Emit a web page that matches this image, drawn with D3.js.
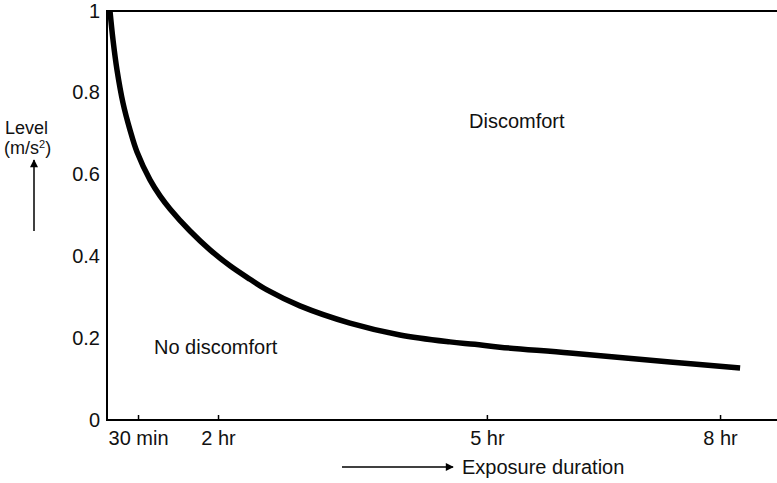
<!DOCTYPE html>
<html><head><meta charset="utf-8">
<script src="https://cdn.jsdelivr.net/npm/d3@7"></script>
<style>body{margin:0;background:#fff}svg{display:block}text{font-family:"Liberation Sans",Arial,sans-serif;fill:#111}</style>
</head><body><svg id="c" width="777" height="483"></svg>
<script>
// Data (hours vs level m/s^2)
const curveHours = [0.048,0.097,0.161,0.258,0.371,0.484,0.725,0.9125,1.10,1.475,1.85,2.134,2.357,2.546,2.914,3.472,4.03,4.587,4.866,5.167,6.069,7.356,8.257];
const curveLevel = [1.0,0.929,0.856,0.775,0.709,0.655,0.587,0.548,0.516,0.462,0.416,0.377,0.344,0.318,0.279,0.237,0.208,0.191,0.185,0.178,0.164,0.142,0.127];
const xTickHours = [0.5,2,5,8];
const xTickLabels = ["30 min","2 hr","5 hr","8 hr"];
const yTicks = [0,0.2,0.4,0.6,0.8,1];
const yTickLabels = ["0","0.2","0.4","0.6","0.8","1"];

const svg = d3.select("#c");
const L=107, R=777, T=11, B=420, W=R-L;
const FS = 20;
// non-uniform time axis, as in the original figure
const x = d3.scaleLinear().domain([0,0.5,2,5,8,8.73]).range([0,0.0463,0.1657,0.567,0.915,1].map(f=>L+f*W));
const y = d3.scaleLinear().domain([0,1]).range([B,T]);

// frame lines
svg.append("line").attr("x1",L).attr("x2",R).attr("y1",T).attr("y2",T).attr("stroke","#000").attr("stroke-width",2);
// x axis with inward ticks
const xAxis = d3.axisTop(x).tickValues(xTickHours).tickSize(5).tickFormat("");
const gx = svg.append("g").attr("transform",`translate(0,${B})`).call(xAxis);
gx.select(".domain").remove();
gx.selectAll(".tick line").attr("stroke","#000").attr("stroke-width",1.5);
svg.append("line").attr("x1",L).attr("x2",R).attr("y1",B).attr("y2",B).attr("stroke","#000").attr("stroke-width",2);
gx.selectAll(".tick").data(xTickHours).append("text").attr("y",25).attr("text-anchor","middle")
  .attr("font-size",FS).attr("fill","#111").text((d,i)=>xTickLabels[i]);
svg.append("line").attr("x1",L).attr("x2",L).attr("y1",T-1).attr("y2",B+1).attr("stroke","#000").attr("stroke-width",2);

// y tick labels
const yAxis = d3.axisLeft(y).tickValues(yTicks).tickSize(0).tickPadding(7).tickFormat((d,i)=>yTickLabels[i]);
const gy = svg.append("g").attr("transform",`translate(${L},0)`).call(yAxis);
gy.select(".domain").remove();
gy.selectAll("text").attr("font-size",FS).attr("fill","#111").attr("font-family","Liberation Sans, Arial, sans-serif").attr("dy","0.3em");

// curve
const pts = curveHours.map((h,i)=>[h,curveLevel[i]]);
svg.append("path").datum(pts)
  .attr("d", d3.line().x(d=>x(d[0])).y(d=>y(d[1])).curve(d3.curveCatmullRom.alpha(0.5)))
  .attr("fill","none").attr("stroke","#000").attr("stroke-width",5.5).attr("stroke-linecap","butt");

// region labels
svg.append("text").attr("x",469).attr("y",128).attr("font-size",FS).text("Discomfort");
svg.append("text").attr("x",154).attr("y",354).attr("font-size",FS).text("No discomfort");

// y label
svg.append("text").attr("x",5).attr("y",134).attr("font-size",18).text("Level");
const yl = svg.append("text").attr("x",4).attr("y",154).attr("font-size",18);
yl.append("tspan").text("(m/s");
yl.append("tspan").attr("font-size",11).attr("dy",-6).text("2");
yl.append("tspan").attr("dy",6).text(")");

// arrows
const defs = svg.append("defs");
defs.append("marker").attr("id","ah").attr("viewBox","0 0 10 10").attr("refX",9).attr("refY",5)
  .attr("markerWidth",11).attr("markerHeight",8).attr("markerUnits","userSpaceOnUse").attr("orient","auto")
  .append("path").attr("d","M0,0L10,5L0,10Z").attr("fill","#000");
svg.append("line").attr("x1",34).attr("x2",34).attr("y1",231).attr("y2",160).attr("stroke","#000").attr("stroke-width",1.5).attr("marker-end","url(#ah)");
svg.append("line").attr("x1",342).attr("x2",453).attr("y1",467).attr("y2",467).attr("stroke","#000").attr("stroke-width",1.5).attr("marker-end","url(#ah)");
svg.append("text").attr("x",462).attr("y",474).attr("font-size",FS).text("Exposure duration");
</script></body></html>
